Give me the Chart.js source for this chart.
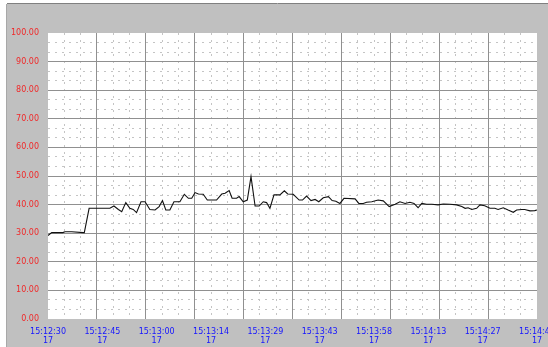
<!DOCTYPE html>
<html>
<head>
<meta charset="utf-8">
<script src="https://cdn.jsdelivr.net/npm/chart.js@4/dist/chart.umd.min.js"></script>
<style>
  body { margin: 0; background: #fff; }
  #grafica { display: block; }
</style>
</head>
<body>
<canvas id="grafica" width="548" height="347"></canvas>
<script>
// etiquetas del eje X (hora / dia) y su posicion en segundos desde 15:12:30
const timeLabels = ['15:12:30', '15:12:45', '15:13:00', '15:13:14', '15:13:29', '15:13:43', '15:13:58', '15:14:13', '15:14:27', '15:14:42'];
const dayLabels = ['17', '17', '17', '17', '17', '17', '17', '17', '17', '17'];
const labelSec = [0, 14.67, 29.33, 44, 58.67, 73.33, 88, 102.67, 117.33, 132];

// muestras de la serie (segundos, valor)
const sampleSec = [0, 1.0, 4.0, 4.6, 6.4, 9.5, 9.8, 11.1, 16.7, 17.8, 19.0, 19.9, 21.0, 22.1, 23.0, 23.9, 25.1, 26.2, 27.5, 28.9,
  30.0, 30.9, 31.8, 32.9, 34.0, 35.6, 36.8, 37.9, 38.8, 39.7, 40.6, 41.9, 43.0, 45.5, 46.9, 47.8, 48.9, 49.7, 50.9, 51.6,
  52.7, 53.8, 54.8, 55.9, 57.0, 58.1, 59.0, 59.9, 61.0, 62.6, 63.8, 64.7, 66.2, 67.8, 68.7, 69.8, 71.0, 72.1, 73.1, 74.3,
  75.7, 76.7, 77.7, 78.8, 79.9, 82.9, 83.9, 85.1, 86.0, 87.4, 89.1, 90.5, 92.1, 93.7, 95.0, 96.4, 97.7, 98.8, 99.9, 100.9,
  102.2, 103.6, 105.3, 106.7, 108.5, 110.3, 111.7, 112.6, 113.4, 114.4, 115.7, 116.6, 117.9, 119.3, 120.6, 121.5, 122.9, 124.2, 125.6, 126.5,
  127.9, 128.7, 130.1, 131.4, 132.0];
const sampleVal = [29.2, 30.2, 30.2, 30.5, 30.5, 30.2, 30.2, 38.7, 38.7, 39.5, 38.3, 37.5, 40.7, 38.7, 38.3, 37.2, 41.0, 41.0, 38.3, 38.1,
  39.3, 41.4, 38.1, 38.1, 41.0, 41.0, 43.6, 42.2, 42.2, 44.2, 43.7, 43.6, 41.6, 41.6, 43.7, 44.0, 44.9, 42.2, 42.2, 42.8,
  41.0, 41.6, 49.8, 39.5, 39.5, 41.0, 40.7, 38.7, 43.4, 43.4, 44.8, 43.7, 43.6, 41.6, 41.6, 43.0, 41.4, 41.8, 41.0, 42.4,
  42.8, 41.4, 41.2, 40.4, 42.2, 42.0, 40.4, 40.4, 40.8, 41.0, 41.6, 41.3, 39.3, 40.1, 41.0, 40.4, 40.8, 40.4, 38.9, 40.4,
  40.1, 40.1, 39.9, 40.2, 40.1, 39.9, 39.3, 38.7, 38.9, 38.3, 38.7, 39.9, 39.6, 38.7, 38.7, 38.3, 38.9, 38.1, 37.3, 38.1,
  38.3, 38.3, 37.8, 37.9, 38.1];

const graphic = document.getElementById('grafica');
const fuente = { family: 'DejaVu Sans', size: 8, lineHeight: 1.125 };

// fondo gris con marco y area de trazado blanca
const fondo = {
  id: 'fondo',
  beforeDraw(chart) {
    const ctx = chart.ctx;
    const a = chart.chartArea;
    ctx.save();
    ctx.fillStyle = '#ffffff';
    ctx.fillRect(0, 0, chart.width, chart.height);
    ctx.fillStyle = '#c0c0c0';
    ctx.fillRect(7, 4, chart.width - 7, chart.height - 4);
    ctx.strokeStyle = '#808080';
    ctx.lineWidth = 1;
    ctx.beginPath();
    ctx.moveTo(7, 3.5);
    ctx.lineTo(chart.width, 3.5);
    ctx.stroke();
    ctx.strokeStyle = '#a8a8a8';
    ctx.beginPath();
    ctx.moveTo(6.5, 4);
    ctx.lineTo(6.5, chart.height);
    ctx.stroke();
    ctx.fillStyle = '#ffffff';
    ctx.fillRect(a.left, a.top, a.right - a.left, a.bottom - a.top);
    ctx.restore();
  }
};

// sin relleno automatico para las etiquetas de los extremos
function noPadding(scale) {
  scale.paddingLeft = 0;
  scale.paddingRight = 0;
  scale.paddingTop = 0;
  scale.paddingBottom = 0;
}

// ejes auxiliares solo para la rejilla
function gridAxis(axis, max, position, minor) {
  return {
    type: 'linear',
    axis: axis,
    position: position,
    min: 0,
    max: max,
    ticks: { display: false, stepSize: 1 },
    border: { display: false, dash: minor ? [2, 5] : [] },
    grid: {
      drawTicks: false,
      lineWidth: 1,
      color: (c) => {
        if (c.index === 0 || c.index === max) return 'rgba(0,0,0,0)';
        if (minor && c.index % 3 === 0) return 'rgba(0,0,0,0)';
        return minor ? '#c4c4c4' : '#909090';
      }
    },
    afterFit(scale) {
      noPadding(scale);
      if (axis === 'x') scale.height = 0; else scale.width = 0;
    }
  };
}

const data = {
  datasets: [{
    data: sampleSec.map((s, i) => ({ x: s, y: sampleVal[i] })),
    borderColor: '#111111',
    borderWidth: 1.1,
    pointRadius: 0,
    fill: false,
    tension: 0,
    xAxisID: 'x',
    yAxisID: 'y'
  }]
};

const config = {
  type: 'line',
  data: data,
  options: {
    responsive: false,
    animation: false,
    events: [],
    layout: { autoPadding: false, padding: { top: 33, right: 11, left: 0, bottom: 0 } },
    plugins: { legend: { display: false }, tooltip: { enabled: false } },
    scales: {
      ym: gridAxis('y', 30, 'left', true),
      xm: gridAxis('x', 30, 'bottom', true),
      xg: gridAxis('x', 10, 'bottom', false),
      y: {
        type: 'linear',
        position: 'left',
        min: 0,
        max: 100,
        ticks: {
          stepSize: 10,
          padding: 9,
          color: '#f02828',
          font: fuente,
          callback: (v) => v.toFixed(2)
        },
        border: { display: false },
        grid: {
          drawTicks: false,
          color: (c) => (c.index === 0 || c.index === 10) ? 'rgba(0,0,0,0)' : '#909090'
        },
        afterFit(scale) {
          noPadding(scale);
          scale.width = 48;
        }
      },
      x: {
        type: 'linear',
        position: 'bottom',
        min: 0,
        max: 132,
        grid: { display: false, drawTicks: false },
        border: { display: false },
        ticks: {
          autoSkip: false,
          maxRotation: 0,
          padding: 8,
          color: '#1414ff',
          font: fuente,
          callback: (v, i) => [timeLabels[i], dayLabels[i]]
        },
        afterBuildTicks(scale) {
          scale.ticks = labelSec.map(v => ({ value: v }));
        },
        afterFit(scale) {
          noPadding(scale);
          scale.height = 28;
        }
      }
    }
  },
  plugins: [fondo]
};

const chart = new Chart(graphic, config);
</script>
</body>
</html>
